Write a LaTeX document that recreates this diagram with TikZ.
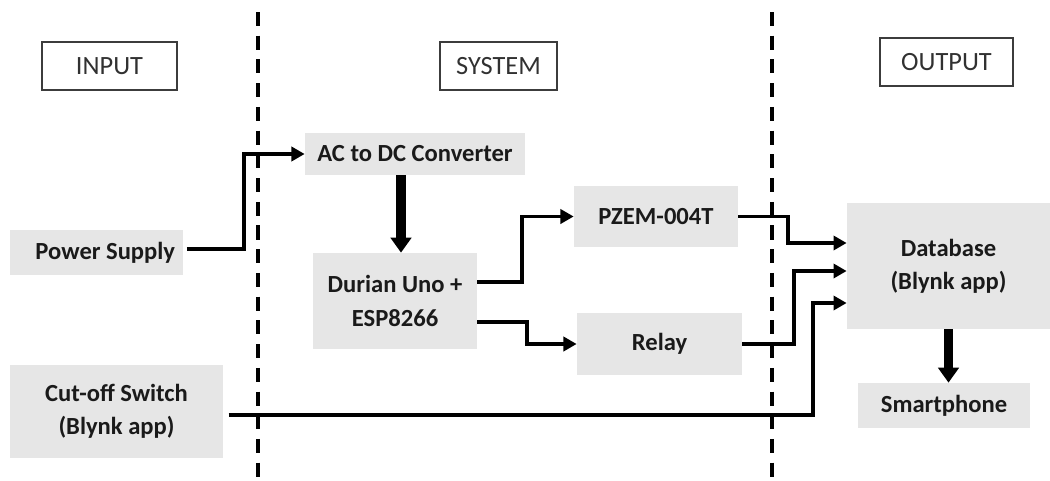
\documentclass[tikz,border=0pt]{standalone}
\usepackage{fontspec}
\setmainfont{Carlito}
\usetikzlibrary{arrows.meta}
\definecolor{boxgray}{HTML}{E6E6E6}
\definecolor{ink}{HTML}{1A1A1A}
\tikzset{
  blk/.style={fill=boxgray, draw=none, inner sep=0pt, align=center, text=ink,
    font=\fontsize{14}{19}\selectfont\bfseries},
  lbl/.style={draw=ink!85, line width=1.2pt, inner sep=0pt, text=ink!90,
    font=\fontsize{15}{18}\selectfont},
  conn/.style={draw=black, line width=1.9pt, -{Triangle[width=8pt,length=7.5pt]}},
  bigarrow/.style={draw=black, line width=5.5pt, -{Triangle[width=11.5pt,length=8.5pt]}},
  divider/.style={draw=black, line width=2pt, dash pattern=on 8pt off 5.5pt}
}
\begin{document}
\begin{tikzpicture}[x=0.02cm,y=-0.02cm]
\useasboundingbox (0,0) rectangle (1050,480);
% dividers
\coordinate (d1t) at (258,12); \coordinate (d1b) at (258,480);
\coordinate (d2t) at (772,12); \coordinate (d2b) at (772,480);
\draw[divider] (d1t) -- (d1b);
\draw[divider] (d2t) -- (d2b);
% header labels
\node[lbl, minimum width=2.7cm, minimum height=0.96cm] (inp) at (109.5,66) {INPUT};
\node[lbl, minimum width=2.34cm, minimum height=0.96cm] (sys) at (498.5,66) {SYSTEM};
\node[lbl, minimum width=2.66cm, minimum height=0.96cm] (out) at (946.5,62) {OUTPUT};
% blocks
\node[blk, minimum width=3.46cm, minimum height=0.9cm] (ps) at (96.5,252.5) {\hspace*{10pt}Power Supply};
\node[blk, minimum width=4.4cm, minimum height=0.84cm] (ac) at (415,154) {AC to DC Converter};
\node[blk, minimum width=3.28cm, minimum height=1.92cm] (du) at (395,301) {Durian Uno +\\ESP8266};
\node[blk, minimum width=3.28cm, minimum height=1.22cm] (pz) at (656,216.5) {PZEM-004T};
\node[blk, minimum width=3.3cm, minimum height=1.24cm] (re) at (659.5,344) {Relay};
\node[blk, minimum width=4.06cm, minimum height=2.52cm] (db) at (948.5,266) {Database\\(Blynk app)};
\node[blk, minimum width=3.44cm, minimum height=0.9cm] (sp) at (944,405.5) {Smartphone};
\node[blk, minimum width=4.26cm, minimum height=1.86cm] (co) at (116.5,411.5) {Cut-off Switch\\(Blynk app)};
% connectors
\draw[conn] ([xshift=2pt]ps.east |- 0,249) -| (244,200) |- (ac.west);
\draw[bigarrow] (ac.south -| 401,0) -- (du.north -| 401,0);
\draw[conn] (du.east |- 0,282) -| (522,250) |- (pz.west);
\draw[conn] (du.east |- 0,322) -| (527,330) |- (re.west);
\draw[conn] (pz.east) -| (788,230) |- (db.west |- 0,243);
\draw[conn] (re.east) -| (794,300) |- (db.west |- 0,271);
\draw[conn] ([xshift=3pt]co.east |- 0,415) -| (813,350) |- (db.west |- 0,303);
\draw[bigarrow] (db.south) -- (sp.north -| db.south);
\end{tikzpicture}
\end{document}
